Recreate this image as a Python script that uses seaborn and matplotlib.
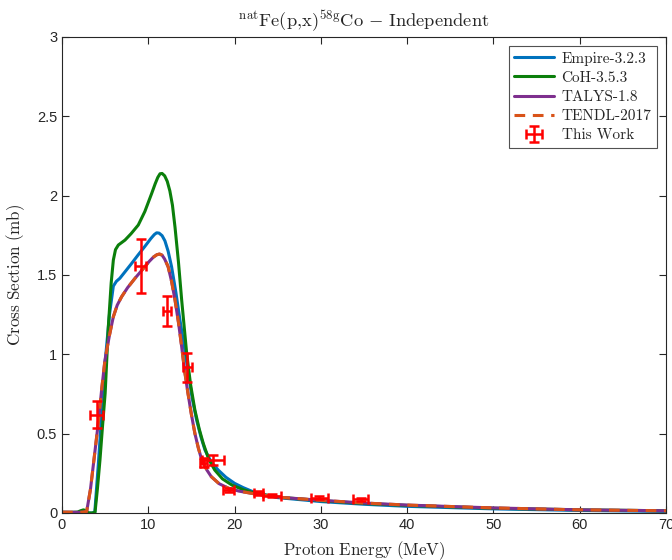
import numpy as np
import pandas as pd
import matplotlib
matplotlib.use("Agg")
import matplotlib.pyplot as plt
import seaborn as sns

# ---------------- data ----------------
talys_e = [0, 1.0, 2.0, 2.5, 2.86, 3.3, 3.8, 4.2, 4.6, 4.98, 5.5, 5.95, 6.4, 6.91, 7.6, 8.46, 9.6,
           10.1, 10.6, 11.0, 11.3, 11.6, 11.9, 12.3, 12.7, 13.1, 13.5, 13.87, 14.2, 14.6, 15.0,
           15.4, 15.8, 16.2, 16.8, 17.3, 18.2, 19.3, 20.5, 22.4, 25, 30, 35, 40, 50, 60, 70]
talys_s = [0.005, 0.005, 0.004, 0.006, 0.01, 0.15, 0.38, 0.565, 0.78, 0.964, 1.12, 1.237, 1.31,
           1.363, 1.42, 1.479, 1.552, 1.585, 1.613, 1.628, 1.632, 1.625, 1.6, 1.552, 1.46, 1.342,
           1.2, 1.048, 0.9, 0.754, 0.62, 0.502, 0.41, 0.334, 0.27, 0.229, 0.185, 0.156, 0.138,
           0.12, 0.1, 0.08, 0.063, 0.05, 0.032, 0.02, 0.014]

tendl_e = talys_e
tendl_s = talys_s

empire_e = [0, 1.0, 2.0, 2.5, 3.0, 3.5, 3.8, 4.2, 4.6, 5.0, 5.5, 5.95, 6.3, 6.7, 7.3, 8.07, 8.8, 9.6,
            10.3, 10.7, 10.97, 11.25, 11.6, 11.93, 12.3, 12.7, 13.2, 13.67, 14.2, 14.64, 15.1,
            15.6, 16.1, 16.57, 17.3, 18.1, 19.0, 20.0, 21.0, 22.4, 25, 30, 35, 40, 50, 60, 70]
empire_s = [0.0, 0.0, 0.0, 0.0, 0.0, 0.0, 0.005, 0.3, 0.62, 0.95, 1.25, 1.43, 1.46, 1.479, 1.52,
            1.573, 1.625, 1.68, 1.73, 1.755, 1.766, 1.764, 1.748, 1.715, 1.65, 1.552, 1.39, 1.216,
            1.04, 0.88, 0.72, 0.586, 0.48, 0.397, 0.32, 0.271, 0.225, 0.187, 0.16, 0.128, 0.097,
            0.072, 0.055, 0.042, 0.026, 0.016, 0.01]

coh_e = [0, 1.0, 1.8, 2.2, 2.5, 2.8, 3.1, 3.5, 3.83, 4.1, 4.4, 4.7, 5.0, 5.37, 5.7, 5.95, 6.2,
         6.53, 7.3, 8.0, 8.84, 9.6, 10.4, 10.8, 11.1, 11.36, 11.6, 11.9, 12.2, 12.5, 12.8, 13.1,
         13.5, 13.87, 14.45, 14.9, 15.4, 15.9, 16.37, 17.0, 17.7, 18.6, 19.7, 21.0, 22.4, 25, 30,
         35, 40, 50, 60, 70]
coh_s = [0.005, 0.004, 0.006, 0.015, 0.02, 0.012, 0.0, 0.0, 0.005, 0.15, 0.334, 0.55, 0.754,
         1.174, 1.45, 1.594, 1.66, 1.689, 1.72, 1.76, 1.815, 1.9, 2.015, 2.075, 2.115, 2.138,
         2.14, 2.125, 2.09, 2.03, 1.94, 1.80, 1.58, 1.342, 1.006, 0.81, 0.649, 0.53, 0.439, 0.34,
         0.271, 0.215, 0.176, 0.147, 0.124, 0.1, 0.078, 0.06, 0.048, 0.03, 0.02, 0.014]

exp_e = [4.0, 9.15, 12.13, 14.52, 16.4, 17.5, 19.35, 22.75, 24.3, 29.8, 34.6]
exp_s = [0.62, 1.558, 1.275, 0.918, 0.317, 0.334, 0.145, 0.124, 0.109, 0.097, 0.086]
exp_ds = [0.085, 0.17, 0.095, 0.092, 0.03, 0.03, 0.012, 0.012, 0.01, 0.01, 0.01]
exp_de = [0.7, 0.64, 0.48, 0.5, 0.4, 1.25, 0.64, 0.5, 1.06, 1.0, 0.87]

series_names = ["Empire-3.2.3", "CoH-3.5.3", "TALYS-1.8", "TENDL-2017"]
colors = ["#0072BD", "#0B7F0B", "#7E2F8E", "#D95319"]

# ---------------- style ----------------
sns.set_theme(style="ticks")
plt.rcParams["font.family"] = ["Liberation Sans", "DejaVu Sans"]
plt.rcParams["mathtext.fontset"] = "cm"
plt.rcParams["axes.unicode_minus"] = False

fig = plt.figure(figsize=(6.72, 5.6), dpi=100)
ax = fig.add_axes([62 / 672, 47 / 560, 604 / 672, 476 / 560])

curves = [(empire_e, empire_s), (coh_e, coh_s), (talys_e, talys_s), (tendl_e, tendl_s)]
for (e, s), name, c in zip(curves, series_names, colors):
    df = pd.DataFrame({"E": e, "S": s})
    ls = "--" if name == "TENDL-2017" else "-"
    sns.lineplot(data=df, x="E", y="S", ax=ax, color=c, lw=2.2, linestyle=ls,
                 label=name, sort=False, estimator=None)
    if ls == "--":
        ax.lines[-1].set_dashes((3.5, 2.5))

ax.errorbar(exp_e, exp_s, yerr=exp_ds, xerr=exp_de, fmt="none", ecolor="#FF0000",
            elinewidth=1.8, capsize=3.5, capthick=1.8, label="This Work", zorder=5)

ax.set_xlim(0, 70)
ax.set_ylim(0, 3)
ax.set_xticks(np.arange(0, 71, 10))
ax.set_yticks(np.arange(0, 3.01, 0.5))
ax.set_yticklabels(["0", "0.5", "1", "1.5", "2", "2.5", "3"])
ax.tick_params(direction="in", length=5, width=0.8, labelsize=10.5, colors="#262626",
               top=True, right=True)
for sp in ax.spines.values():
    sp.set_visible(True)
    sp.set_linewidth(0.8)
    sp.set_color("#262626")

ax.set_xlabel(r"$\mathrm{Proton\ Energy\ (MeV)}$", fontsize=12.2, labelpad=5)
ax.set_ylabel(r"$\mathrm{Cross\ Section\ (mb)}$", fontsize=12.3, labelpad=7)
ax.set_title(r"$^{\mathrm{nat}}\mathrm{Fe(p{,}x)}^{\mathrm{58g}}\mathrm{Co}\,-\,\mathrm{Independent}$",
             fontsize=13.3, pad=7)

leg = ax.legend(loc="upper right", frameon=True, fancybox=False, edgecolor="#262626",
                prop={"family": "cmr10", "size": 11}, handlelength=2.6, borderpad=0.35,
                labelspacing=0.36, borderaxespad=0.6, handletextpad=0.5)
leg.get_frame().set_linewidth(0.8)

fig.savefig("out.png", dpi=100)
